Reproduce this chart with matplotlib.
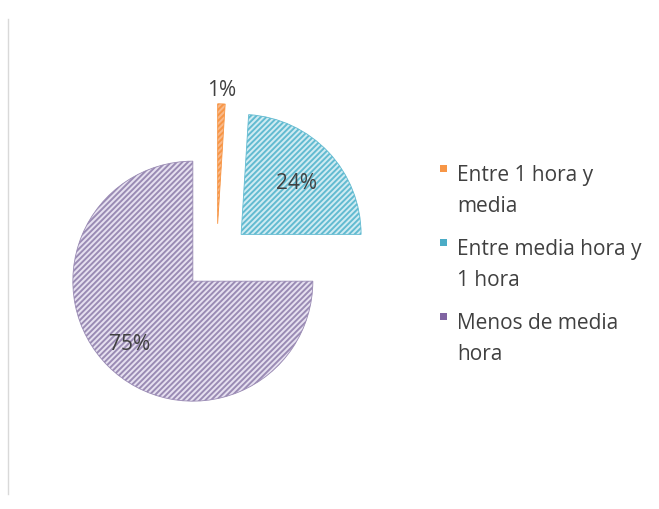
import numpy as np
import matplotlib.pyplot as plt
from matplotlib.patches import Rectangle

# data
categories = ['Entre 1 hora y\nmedia', 'Entre media hora y\n1 hora', 'Menos de media\nhora']
shares = [1, 24, 75]
pct_labels = ['1%', '24%', '75%']

stripe_colors = ['#f79646', '#62bbd1', '#9a8bb4']
fill_colors = ['#f9b98a', '#d0ebf2', '#e6e0f0']
legend_colors = ['#f79646', '#4bacc6', '#8064a2']
label_dist = [1.12, 0.63, 0.74]
text_color = '#404040'

plt.rcParams['font.family'] = ['Open Sans', 'DejaVu Sans']
plt.rcParams['hatch.linewidth'] = 1.4

W, H, DPI = 659, 510, 100
fig = plt.figure(figsize=(W / DPI, H / DPI), dpi=DPI)
ax = fig.add_axes([0, 0, 1, 1])

wedges, _ = ax.pie(shares, startangle=90, counterclock=False,
                   explode=[0.28] * len(shares), radius=1.0,
                   wedgeprops=dict(linewidth=0.6))
for w, fc, sc in zip(wedges, fill_colors, stripe_colors):
    w.set_facecolor(fc)
    w.set_edgecolor(sc)
    w.set_hatch('//////')

# 1 data unit = 120 px, pie centre at pixel (216.6, 258.4 from top)
px = 120.0
cx, cy = 216.6, H - 258.4
ax.set_aspect('auto')
ax.set_xlim(-cx / px, (W - cx) / px)
ax.set_ylim(-cy / px, (H - cy) / px)
ax.set_axis_off()

for w, lab, d in zip(wedges, pct_labels, label_dist):
    tm = np.deg2rad((w.theta1 + w.theta2) / 2)
    x0, y0 = w.center
    ax.text(x0 + d * w.r * np.cos(tm), y0 + d * w.r * np.sin(tm), lab,
            ha='center', va='center', fontsize=15, color=text_color)

# legend drawn by hand: square marker aligned with first text line
leg_x, leg_y, step, line_h = 457, 176, 74, 31
for i, (cat, col) in enumerate(zip(categories, legend_colors)):
    ty = leg_y + i * step
    for j, line in enumerate(cat.split('\n')):
        fig.text(leg_x / W, 1 - (ty + j * line_h) / H, line,
                 ha='left', va='center', fontsize=15, color=text_color)
    fig.patches.append(Rectangle(((leg_x - 17) / W, 1 - (ty - 3) / H),
                                 7 / W, 7 / H, transform=fig.transFigure,
                                 facecolor=col, edgecolor='none'))

# faint chart-area border on the left
fig.add_artist(plt.Line2D([8 / W, 8 / W], [1 - 20 / H, 1 - 495 / H],
                          transform=fig.transFigure, color='#d9d9d9', lw=1))

fig.savefig('out.png', dpi=DPI)
